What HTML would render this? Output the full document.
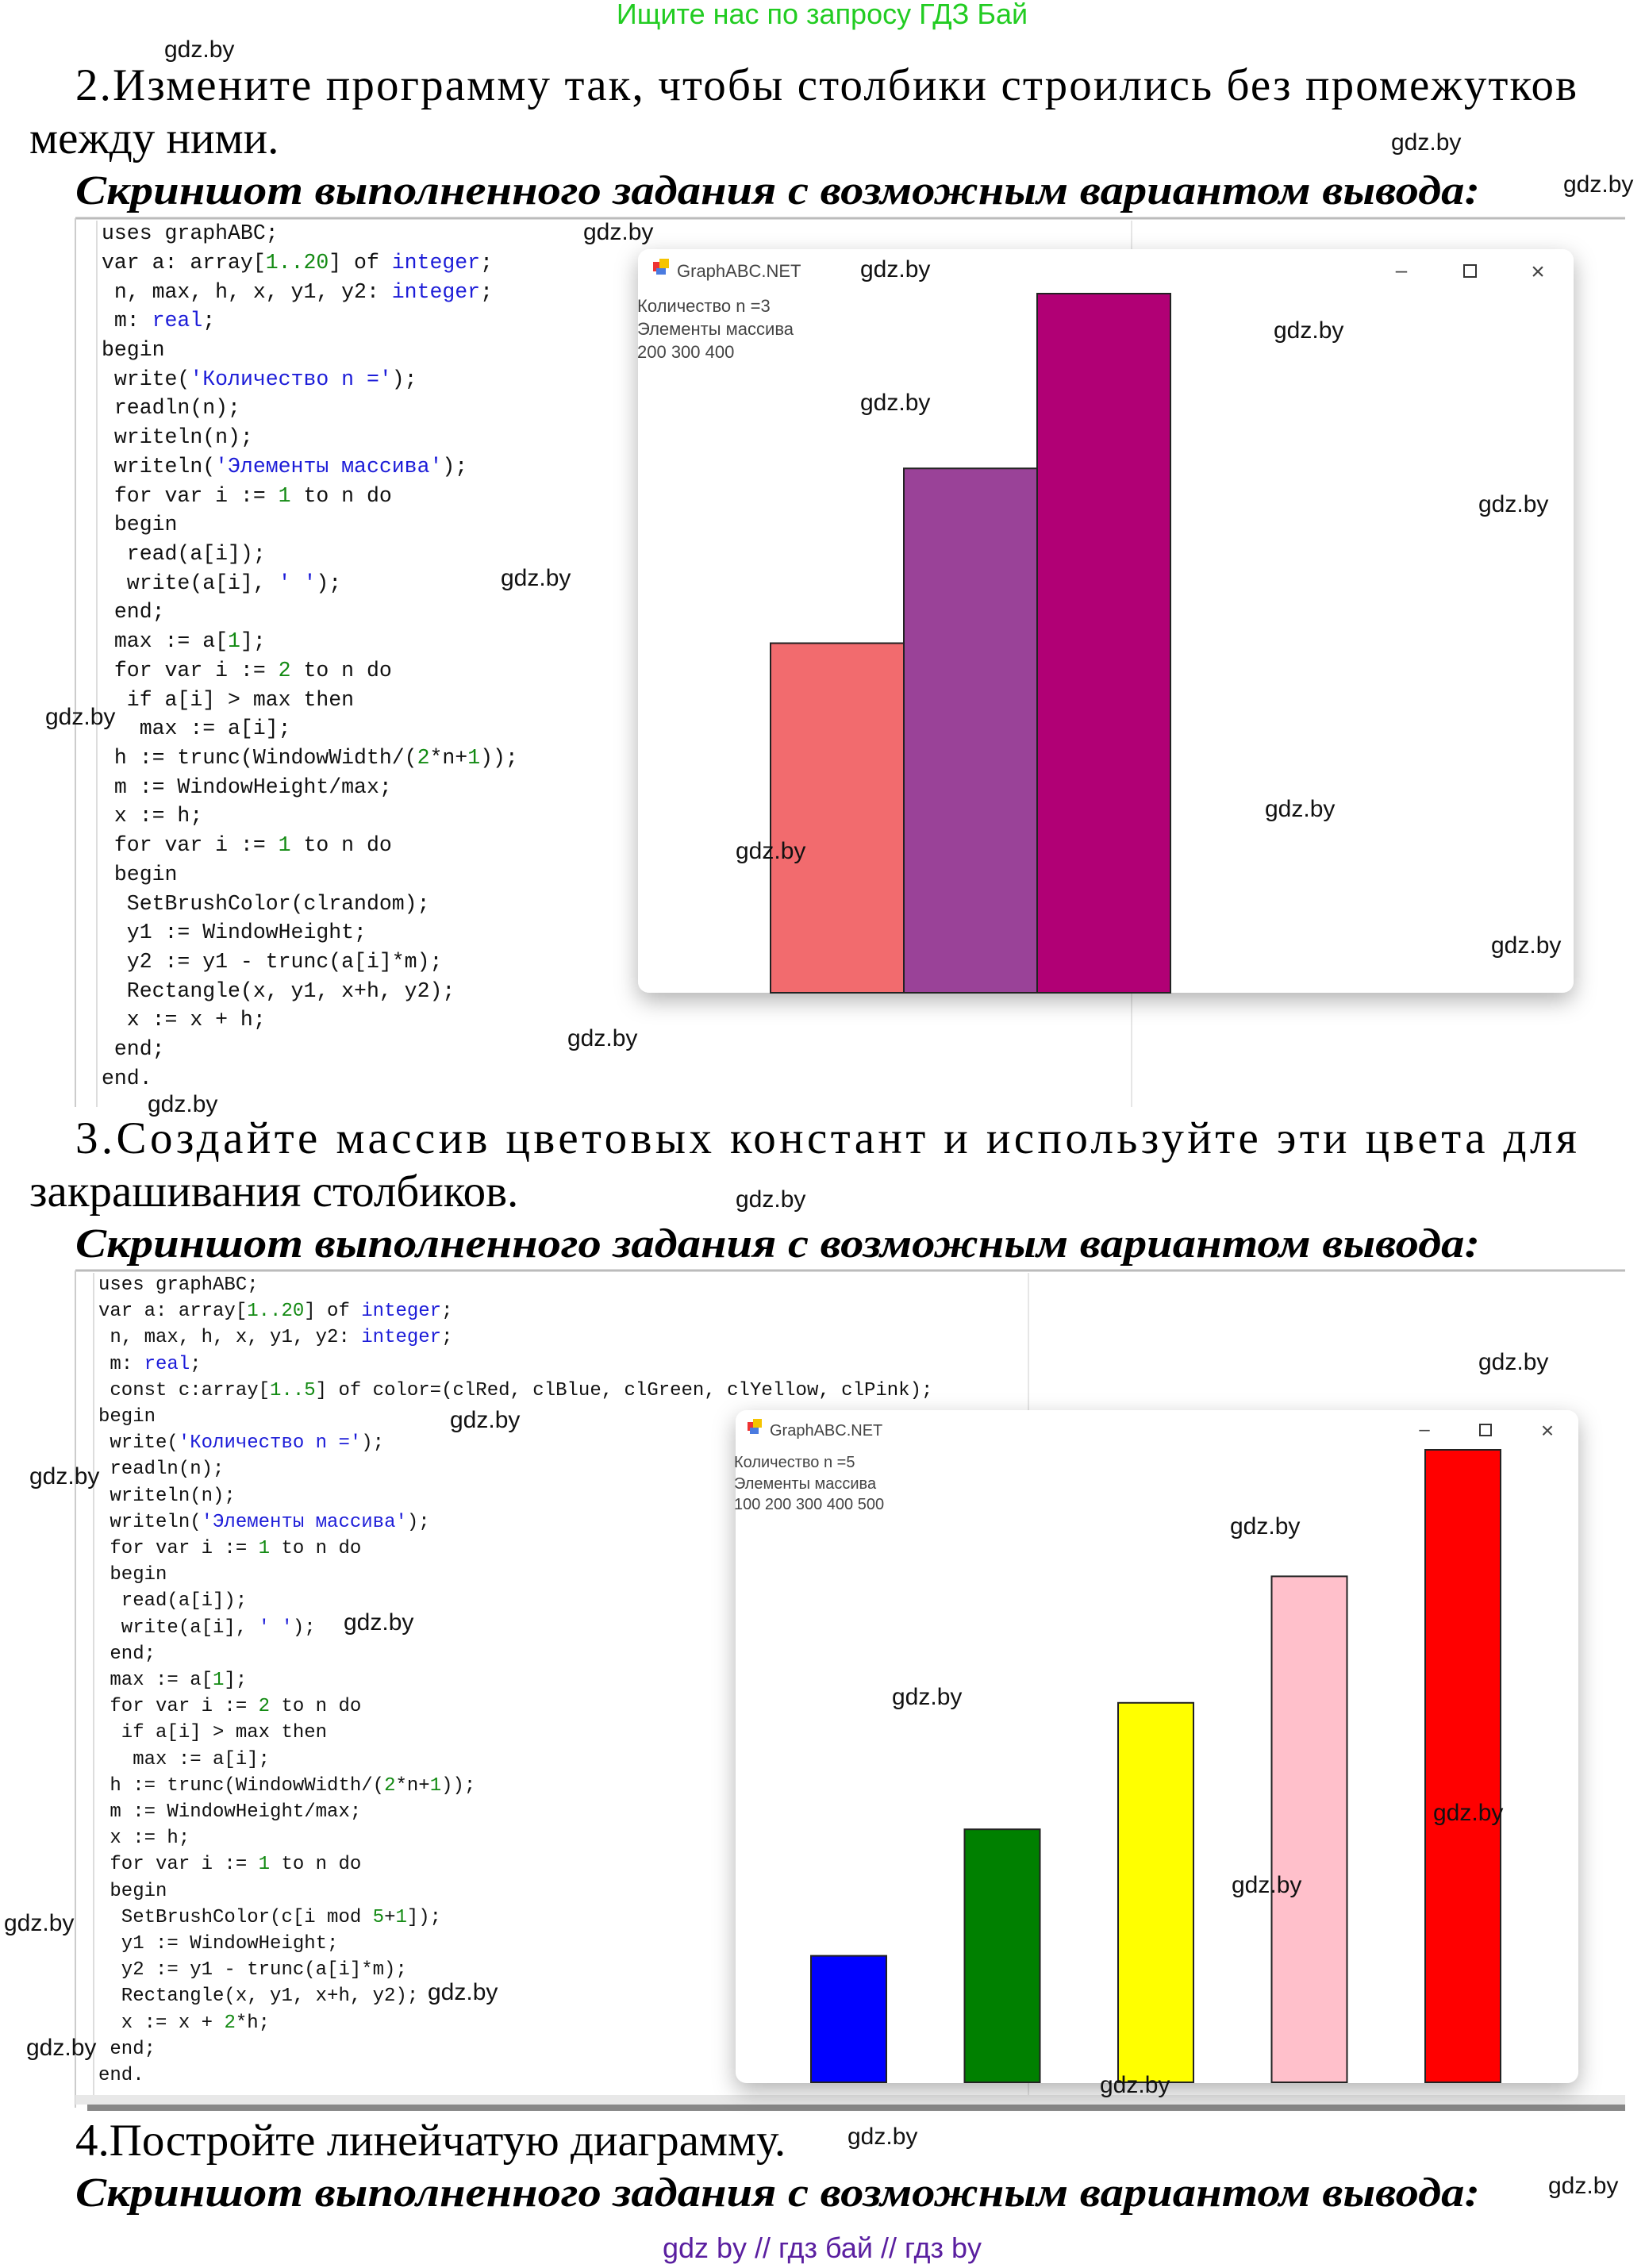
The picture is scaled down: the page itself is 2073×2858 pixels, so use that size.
<!DOCTYPE html>
<html><head><meta charset="utf-8"><style>
html,body{margin:0;padding:0;background:#fff;}
svg{display:block;}
.wm{font-family:"Liberation Sans",sans-serif;font-size:30px;fill:#111;}
.hd{font-family:"Liberation Serif","Noto Serif CJK SC",serif;font-size:57px;fill:#000;}
.it{font-family:"Liberation Serif",serif;font-size:52px;font-style:italic;font-weight:bold;fill:#000;}
.c1{font-family:"Liberation Mono",monospace;font-size:26.5px;fill:#111;white-space:pre;}
.c2{font-family:"Liberation Mono",monospace;font-size:24px;fill:#111;white-space:pre;}
.s{fill:#1c1cd8}.n{fill:#138a13}.t{fill:#1c1cd8}
.wt{font-family:"Liberation Sans",sans-serif;fill:#444;}
</style></head><body>
<svg id="page" width="2073" height="2858" viewBox="0 0 2073 2858" xmlns="http://www.w3.org/2000/svg">
<defs>
<filter id="sh" x="-10%" y="-10%" width="120%" height="120%"><feDropShadow dx="0" dy="10" stdDeviation="14" flood-color="#000" flood-opacity="0.3"/></filter>
</defs>
<text x="1036" y="30" text-anchor="middle" font-family="Liberation Sans, sans-serif" font-size="36" fill="#22cc22">Ищите нас по запросу ГДЗ Бай</text>

<text class="hd" x="95" y="126" textLength="1892" lengthAdjust="spacing">2.Измените программу так, чтобы столбики строились без промежутков</text>
<text class="hd" x="37" y="193">между ними.</text>
<text class="it" x="95" y="257" textLength="1770" lengthAdjust="spacingAndGlyphs">Скриншот выполненного задания с возможным вариантом вывода:</text>

<g>
<line x1="95" y1="275" x2="2048" y2="275" stroke="#bbb" stroke-width="3"/>
<line x1="95" y1="275" x2="95" y2="1395" stroke="#ccc" stroke-width="2"/>
<line x1="122" y1="278" x2="122" y2="1395" stroke="#ddd" stroke-width="2"/>
<line x1="1426" y1="278" x2="1426" y2="1395" stroke="#e6e6e6" stroke-width="2"/>
<text class="c1" x="128" y="301">uses graphABC;</text>
<text class="c1" x="128" y="338">var a: array[<tspan class="n">1..20</tspan>] of <tspan class="t">integer</tspan>;</text>
<text class="c1" x="128" y="375"> n, max, h, x, y1, y2: <tspan class="t">integer</tspan>;</text>
<text class="c1" x="128" y="411"> m: <tspan class="t">real</tspan>;</text>
<text class="c1" x="128" y="448">begin</text>
<text class="c1" x="128" y="485"> write(<tspan class="s">'Количество n ='</tspan>);</text>
<text class="c1" x="128" y="521"> readln(n);</text>
<text class="c1" x="128" y="558"> writeln(n);</text>
<text class="c1" x="128" y="595"> writeln(<tspan class="s">'Элементы массива'</tspan>);</text>
<text class="c1" x="128" y="632"> for var i := <tspan class="n">1</tspan> to n do</text>
<text class="c1" x="128" y="668"> begin</text>
<text class="c1" x="128" y="705">  read(a[i]);</text>
<text class="c1" x="128" y="742">  write(a[i], <tspan class="s">' '</tspan>);</text>
<text class="c1" x="128" y="778"> end;</text>
<text class="c1" x="128" y="815"> max := a[<tspan class="n">1</tspan>];</text>
<text class="c1" x="128" y="852"> for var i := <tspan class="n">2</tspan> to n do</text>
<text class="c1" x="128" y="889">  if a[i] &gt; max then</text>
<text class="c1" x="128" y="925">   max := a[i];</text>
<text class="c1" x="128" y="962"> h := trunc(WindowWidth/(<tspan class="n">2</tspan>*n+<tspan class="n">1</tspan>));</text>
<text class="c1" x="128" y="999"> m := WindowHeight/max;</text>
<text class="c1" x="128" y="1035"> x := h;</text>
<text class="c1" x="128" y="1072"> for var i := <tspan class="n">1</tspan> to n do</text>
<text class="c1" x="128" y="1109"> begin</text>
<text class="c1" x="128" y="1146">  SetBrushColor(clrandom);</text>
<text class="c1" x="128" y="1182">  y1 := WindowHeight;</text>
<text class="c1" x="128" y="1219">  y2 := y1 - trunc(a[i]*m);</text>
<text class="c1" x="128" y="1256">  Rectangle(x, y1, x+h, y2);</text>
<text class="c1" x="128" y="1292">  x := x + h;</text>
<text class="c1" x="128" y="1329"> end;</text>
<text class="c1" x="128" y="1366">end.</text>
</g>

<g>
<rect x="804" y="314" width="1179" height="937" rx="14" fill="#fff" filter="url(#sh)"/>
<rect x="823" y="330" width="12" height="12" fill="#e33"/><rect x="831" y="326" width="12" height="12" fill="#f5c400"/><rect x="827" y="338" width="12" height="8" fill="#4a7be0"/>
<text class="wt" x="853" y="349" font-size="22">GraphABC.NET</text>
<text class="wt" x="1766" y="349" font-size="26" text-anchor="middle">–</text>
<rect x="1845" y="334" width="15" height="15" fill="none" stroke="#333" stroke-width="2"/>
<text class="wt" x="1938" y="352" font-size="30" text-anchor="middle">×</text>
<text class="wt" x="803" y="393" font-size="22">Количество n =3</text>
<text class="wt" x="803" y="422" font-size="22">Элементы массива</text>
<text class="wt" x="803" y="451" font-size="22">200 300 400</text>
<g id="bars1"></g>
</g>

<text class="hd" x="95" y="1453" textLength="1892" lengthAdjust="spacing">3.Создайте массив цветовых констант и используйте эти цвета для</text>
<text class="hd" x="37" y="1520">закрашивания столбиков.</text>
<text class="it" x="95" y="1584" textLength="1770" lengthAdjust="spacingAndGlyphs">Скриншот выполненного задания с возможным вариантом вывода:</text>

<g>
<line x1="95" y1="1601" x2="2048" y2="1601" stroke="#bbb" stroke-width="3"/>
<line x1="95" y1="1601" x2="95" y2="2656" stroke="#ccc" stroke-width="2"/>
<line x1="118" y1="1604" x2="118" y2="2640" stroke="#ddd" stroke-width="2"/>
<line x1="1296" y1="1604" x2="1296" y2="2640" stroke="#e6e6e6" stroke-width="2"/>
<rect x="95" y="2640" width="1953" height="12" fill="#e8e8e8"/>
<rect x="110" y="2652" width="1938" height="8" fill="#888"/>
<text class="c2" x="124" y="1625">uses graphABC;</text>
<text class="c2" x="124" y="1658">var a: array[<tspan class="n">1..20</tspan>] of <tspan class="t">integer</tspan>;</text>
<text class="c2" x="124" y="1691"> n, max, h, x, y1, y2: <tspan class="t">integer</tspan>;</text>
<text class="c2" x="124" y="1725"> m: <tspan class="t">real</tspan>;</text>
<text class="c2" x="124" y="1758"> const c:array[<tspan class="n">1..5</tspan>] of color=(clRed, clBlue, clGreen, clYellow, clPink);</text>
<text class="c2" x="124" y="1791">begin</text>
<text class="c2" x="124" y="1824"> write(<tspan class="s">'Количество n ='</tspan>);</text>
<text class="c2" x="124" y="1857"> readln(n);</text>
<text class="c2" x="124" y="1891"> writeln(n);</text>
<text class="c2" x="124" y="1924"> writeln(<tspan class="s">'Элементы массива'</tspan>);</text>
<text class="c2" x="124" y="1957"> for var i := <tspan class="n">1</tspan> to n do</text>
<text class="c2" x="124" y="1990"> begin</text>
<text class="c2" x="124" y="2023">  read(a[i]);</text>
<text class="c2" x="124" y="2057">  write(a[i], <tspan class="s">' '</tspan>);</text>
<text class="c2" x="124" y="2090"> end;</text>
<text class="c2" x="124" y="2123"> max := a[<tspan class="n">1</tspan>];</text>
<text class="c2" x="124" y="2156"> for var i := <tspan class="n">2</tspan> to n do</text>
<text class="c2" x="124" y="2189">  if a[i] &gt; max then</text>
<text class="c2" x="124" y="2223">   max := a[i];</text>
<text class="c2" x="124" y="2256"> h := trunc(WindowWidth/(<tspan class="n">2</tspan>*n+<tspan class="n">1</tspan>));</text>
<text class="c2" x="124" y="2289"> m := WindowHeight/max;</text>
<text class="c2" x="124" y="2322"> x := h;</text>
<text class="c2" x="124" y="2355"> for var i := <tspan class="n">1</tspan> to n do</text>
<text class="c2" x="124" y="2389"> begin</text>
<text class="c2" x="124" y="2422">  SetBrushColor(c[i mod <tspan class="n">5</tspan>+<tspan class="n">1</tspan>]);</text>
<text class="c2" x="124" y="2455">  y1 := WindowHeight;</text>
<text class="c2" x="124" y="2488">  y2 := y1 - trunc(a[i]*m);</text>
<text class="c2" x="124" y="2521">  Rectangle(x, y1, x+h, y2);</text>
<text class="c2" x="124" y="2555">  x := x + <tspan class="n">2</tspan>*h;</text>
<text class="c2" x="124" y="2588"> end;</text>
<text class="c2" x="124" y="2621">end.</text>
</g>

<g>
<rect x="927" y="1777" width="1062" height="848" rx="14" fill="#fff" filter="url(#sh)"/>
<rect x="942" y="1792" width="11" height="11" fill="#e33"/><rect x="949" y="1788" width="11" height="11" fill="#f5c400"/><rect x="945" y="1799" width="11" height="8" fill="#4a7be0"/>
<text class="wt" x="970" y="1809" font-size="20">GraphABC.NET</text>
<text class="wt" x="1795" y="1809" font-size="24" text-anchor="middle">–</text>
<rect x="1865" y="1795" width="14" height="14" fill="none" stroke="#333" stroke-width="2"/>
<text class="wt" x="1950" y="1812" font-size="28" text-anchor="middle">×</text>
<text class="wt" x="925" y="1849" font-size="20">Количество n =5</text>
<text class="wt" x="925" y="1876" font-size="20">Элементы массива</text>
<text class="wt" x="925" y="1902" font-size="20">100 200 300 400 500</text>
<g id="bars2"></g>
</g>

<text class="hd" x="95" y="2716">4.Постройте линейчатую диаграмму.</text>
<text class="it" x="95" y="2780" textLength="1770" lengthAdjust="spacingAndGlyphs">Скриншот выполненного задания с возможным вариантом вывода:</text>

<text x="1036" y="2845" text-anchor="middle" font-family="Liberation Sans, sans-serif" font-size="36" fill="#5a1fa0">gdz by  //  гдз бай  //  гдз by</text>

<g id="wms">
<text class="wm" x="207" y="72">gdz.by</text>
<text class="wm" x="1753" y="189">gdz.by</text>
<text class="wm" x="1970" y="242">gdz.by</text>
<text class="wm" x="735" y="302">gdz.by</text>
<text class="wm" x="1084" y="349">gdz.by</text>
<text class="wm" x="1605" y="426">gdz.by</text>
<text class="wm" x="1084" y="517">gdz.by</text>
<text class="wm" x="1863" y="645">gdz.by</text>
<text class="wm" x="631" y="738">gdz.by</text>
<text class="wm" x="57" y="913">gdz.by</text>
<text class="wm" x="1594" y="1029">gdz.by</text>
<text class="wm" x="927" y="1082">gdz.by</text>
<text class="wm" x="1879" y="1201">gdz.by</text>
<text class="wm" x="715" y="1318">gdz.by</text>
<text class="wm" x="186" y="1401">gdz.by</text>
<text class="wm" x="927" y="1521">gdz.by</text>
<text class="wm" x="1863" y="1726">gdz.by</text>
<text class="wm" x="567" y="1799">gdz.by</text>
<text class="wm" x="37" y="1870">gdz.by</text>
<text class="wm" x="1550" y="1933">gdz.by</text>
<text class="wm" x="433" y="2054">gdz.by</text>
<text class="wm" x="1124" y="2148">gdz.by</text>
<text class="wm" x="1806" y="2294">gdz.by</text>
<text class="wm" x="5" y="2433">gdz.by</text>
<text class="wm" x="1552" y="2385">gdz.by</text>
<text class="wm" x="539" y="2520">gdz.by</text>
<text class="wm" x="33" y="2590">gdz.by</text>
<text class="wm" x="1386" y="2637">gdz.by</text>
<text class="wm" x="1068" y="2702">gdz.by</text>
<text class="wm" x="1951" y="2764">gdz.by</text>
</g>
</svg>
<script>
const values1 = [200, 300, 400];
const colors1 = ["#f26b6e", "#9a4298", "#b10075"];
const values2 = [100, 200, 300, 400, 500];
const colors2 = ["#0000ff", "#008000", "#ffff00", "#ffc0cb", "#ff0000"];
const NS = "http://www.w3.org/2000/svg";
function drawBars(gid, vals, cols, x0, baseY, plotH, barW, step, prefix) {
  const g = document.getElementById(gid);
  const max = Math.max.apply(null, vals);
  const yScale = v => baseY - v / max * plotH;
  vals.forEach((v, i) => {
    const r = document.createElementNS(NS, "rect");
    const y = yScale(v);
    r.setAttribute("x", x0 + i * step);
    r.setAttribute("y", y);
    r.setAttribute("width", barW);
    r.setAttribute("height", baseY - y);
    r.setAttribute("fill", cols[i % cols.length]);
    r.setAttribute("stroke", "#222");
    r.setAttribute("stroke-width", "2");
    
    
    g.appendChild(r);
  });
}
drawBars("bars1", values1, colors1, 971, 1251, 881, 168, 168, "window-1");
drawBars("bars2", values2, colors2, 1022, 2624, 797, 95, 193.5, "window-2");
</script>
</body></html>
